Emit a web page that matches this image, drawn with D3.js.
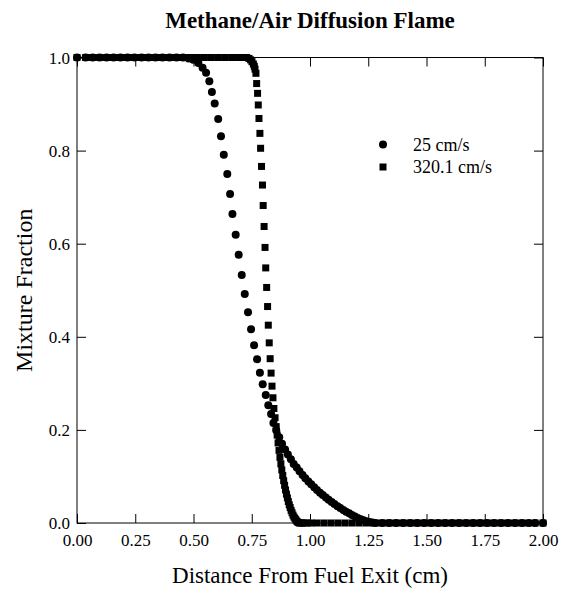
<!DOCTYPE html>
<html>
<head>
<meta charset="utf-8">
<script src="https://cdn.jsdelivr.net/npm/d3@7"></script>
<style>
  body { margin: 0; background: #fff; }
  svg text { font-family: "Liberation Serif", "Times New Roman", serif; fill: #000; }
</style>
</head>
<body>
<svg id="chart" width="561" height="590"></svg>
<script>
// 25 cm/s (circles)
var slowX = [0, 0.037, 0.067, 0.097, 0.127, 0.157, 0.187, 0.217, 0.247, 0.277, 0.307, 0.337, 0.367, 0.397, 0.427, 0.455,
    0.479, 0.499, 0.521, 0.539, 0.554, 0.568, 0.579, 0.591, 0.606, 0.618, 0.630, 0.645, 0.657, 0.667, 0.681, 0.694,
    0.707, 0.720, 0.734, 0.747, 0.760, 0.773, 0.785, 0.797, 0.810, 0.821, 0.833, 0.843, 0.855, 0.868, 0.880, 0.893,
    0.905, 0.918, 0.930, 0.943, 0.955, 0.968, 0.980, 0.993, 1.005, 1.018, 1.030, 1.043, 1.055, 1.068, 1.080, 1.093,
    1.105, 1.118, 1.130, 1.143, 1.155, 1.168, 1.180, 1.193, 1.205, 1.218, 1.230, 1.243, 1.255, 1.268, 1.280, 1.310,
    1.340, 1.370, 1.400, 1.430, 1.460, 1.490, 1.520, 1.550, 1.580, 1.610, 1.640, 1.670, 1.700, 1.730, 1.760, 1.790,
    1.820, 1.850, 1.880, 1.910, 1.940, 1.966, 2.000];
var slowY = [1, 1, 1, 1, 1, 1, 1, 1, 1, 1, 1, 1, 1, 1, 1, 1,
    0.998, 0.995, 0.988, 0.978, 0.967, 0.949, 0.926, 0.901, 0.868, 0.831, 0.791, 0.750, 0.707, 0.664, 0.619, 0.576,
    0.533, 0.492, 0.453, 0.416, 0.382, 0.352, 0.323, 0.298, 0.275, 0.253, 0.234, 0.215, 0.199, 0.184, 0.170, 0.158,
    0.147, 0.137, 0.127, 0.119, 0.111, 0.103, 0.096, 0.089, 0.083, 0.077, 0.071, 0.065, 0.060, 0.055, 0.050, 0.045,
    0.041, 0.036, 0.032, 0.028, 0.024, 0.021, 0.017, 0.014, 0.011, 0.008, 0.006, 0.004, 0.002, 0.001, 0, 0,
    0, 0, 0, 0, 0, 0, 0, 0, 0, 0, 0, 0, 0, 0, 0, 0,
    0, 0, 0, 0, 0, 0, 0];

// 320.1 cm/s (squares)
var fastX = [0, 0.037, 0.067, 0.097, 0.127, 0.157, 0.187, 0.217, 0.247, 0.277, 0.307, 0.337, 0.367, 0.397, 0.427, 0.457,
    0.487, 0.517, 0.547, 0.577, 0.607, 0.637, 0.667, 0.694, 0.713, 0.728, 0.738, 0.745, 0.751, 0.757, 0.761, 0.764,
    0.768, 0.771, 0.775, 0.778, 0.781, 0.785, 0.788, 0.792, 0.796, 0.799, 0.803, 0.807, 0.810, 0.814, 0.818, 0.821,
    0.825, 0.829, 0.833, 0.837, 0.841, 0.845, 0.850, 0.855, 0.859, 0.863, 0.867, 0.871, 0.875, 0.879, 0.883, 0.887,
    0.891, 0.895, 0.899, 0.903, 0.907, 0.911, 0.915, 0.919, 0.923, 0.927, 0.931, 0.935, 0.939, 0.943, 0.947, 0.951,
    0.955, 0.960, 0.966, 0.975, 0.988, 1.005, 1.030, 1.060, 1.090, 1.120, 1.150, 1.180, 1.210, 1.240, 1.270, 1.300,
    1.330, 1.360, 1.390, 1.420, 1.450, 1.480, 1.510, 1.540, 1.570, 1.600, 1.630, 1.660, 1.690, 1.720, 1.750, 1.780,
    1.810, 1.840, 1.870, 1.900, 1.930, 1.966, 2.000];
var fastY = [1, 1, 1, 1, 1, 1, 1, 1, 1, 1, 1, 1, 1, 1, 1, 1,
    1, 1, 1, 1, 1, 1, 1, 1, 1, 1, 0.998, 0.995, 0.991, 0.986, 0.981, 0.975,
    0.966, 0.944, 0.923, 0.898, 0.869, 0.837, 0.805, 0.766, 0.726, 0.682, 0.637, 0.592, 0.548, 0.506, 0.465, 0.425,
    0.387, 0.353, 0.322, 0.294, 0.269, 0.246, 0.226, 0.207, 0.189, 0.172, 0.156, 0.141, 0.127, 0.114, 0.102, 0.091,
    0.081, 0.071, 0.062, 0.054, 0.046, 0.039, 0.033, 0.027, 0.022, 0.017, 0.013, 0.010, 0.007, 0.004, 0.002, 0.001,
    0, 0, 0, 0, 0, 0, 0, 0, 0, 0, 0, 0, 0, 0, 0, 0,
    0, 0, 0, 0, 0, 0, 0, 0, 0, 0, 0, 0, 0, 0, 0, 0,
    0, 0, 0, 0, 0, 0, 0];

var seriesNames = ["25 cm/s", "320.1 cm/s"];
var xTicks = [0, 0.25, 0.5, 0.75, 1.0, 1.25, 1.5, 1.75, 2.0];
var yTicks = [0, 0.2, 0.4, 0.6, 0.8, 1.0];

function draw() {
    var svg = d3.select("#chart");
    var x0 = 77, x1 = 543, y0 = 523, y1 = 57.5;
    var tick = 9;

    var xs = d3.scaleLinear().domain([0, 2]).range([x0, x1]);
    var ys = d3.scaleLinear().domain([0, 1]).range([y0, y1]);

    // frame
    svg.append("rect")
        .attr("x", x0).attr("y", y1)
        .attr("width", x1 - x0).attr("height", y0 - y1)
        .attr("fill", "none").attr("stroke", "#000").attr("stroke-width", 1);

    // axes, ticks pointing inward
    var xb = svg.append("g").attr("transform", "translate(0," + y0 + ")")
        .call(d3.axisBottom(xs).tickValues(xTicks).tickSize(-tick).tickFormat(d3.format(".2f")));
    xb.selectAll("text").attr("y", 23).attr("dy", null).style("font-size", "17px");
    svg.append("g").attr("transform", "translate(0," + y1 + ")")
        .call(d3.axisTop(xs).tickValues(xTicks).tickSize(-tick).tickFormat(""));
    var yl = svg.append("g").attr("transform", "translate(" + x0 + ",0)")
        .call(d3.axisLeft(ys).tickValues(yTicks).tickSize(-tick).tickFormat(d3.format(".1f")));
    yl.selectAll("text").attr("x", -7).attr("dy", "0.33em").style("font-size", "17px");
    svg.append("g").attr("transform", "translate(" + x1 + ",0)")
        .call(d3.axisRight(ys).tickValues(yTicks).tickSize(-tick).tickFormat(""));
    svg.selectAll(".domain").remove();
    svg.selectAll(".tick line").attr("stroke", "#000");
    svg.selectAll("g").attr("font-family", null).attr("font-size", null);

    // data points
    var slow = slowX.map(function(x, i) { return {x: x, y: slowY[i]}; });
    var fast = fastX.map(function(x, i) { return {x: x, y: fastY[i]}; });

    svg.append("g").selectAll("circle")
        .data(slow).enter()
        .append("circle")
        .attr("cx", function(d) { return xs(d.x); })
        .attr("cy", function(d) { return ys(d.y); })
        .attr("r", 4)
        .attr("fill", "#000");

    var sq = 7;
    svg.append("g").selectAll("rect")
        .data(fast).enter()
        .append("rect")
        .attr("x", function(d) { return xs(d.x) - sq / 2; })
        .attr("y", function(d) { return ys(d.y) - sq / 2; })
        .attr("width", sq).attr("height", sq)
        .attr("fill", "#000");

    // legend
    var lg = svg.append("g");
    lg.append("circle").attr("cx", 383).attr("cy", 144.5).attr("r", 4).attr("fill", "#000");
    lg.append("rect").attr("x", 383 - sq / 2).attr("y", 167 - sq / 2).attr("width", sq).attr("height", sq).attr("fill", "#000");
    lg.selectAll("text").data(seriesNames).enter()
        .append("text")
        .attr("x", 413)
        .attr("y", function(d, i) { return 150.5 + i * 22.5; })
        .style("font-size", "18px")
        .text(function(d) { return d; });

    // titles
    svg.append("text")
        .attr("x", (x0 + x1) / 2).attr("y", 28)
        .attr("text-anchor", "middle")
        .style("font-size", "23px").style("font-weight", "bold")
        .text("Methane/Air Diffusion Flame");

    svg.append("text")
        .attr("x", (x0 + x1) / 2).attr("y", 583)
        .attr("text-anchor", "middle")
        .style("font-size", "23px")
        .text("Distance From Fuel Exit (cm)");

    svg.append("text")
        .attr("transform", "translate(32," + (y0 + y1) / 2 + ") rotate(-90)")
        .attr("text-anchor", "middle")
        .style("font-size", "24px")
        .text("Mixture Fraction");
}

draw();
</script>
</body>
</html>
